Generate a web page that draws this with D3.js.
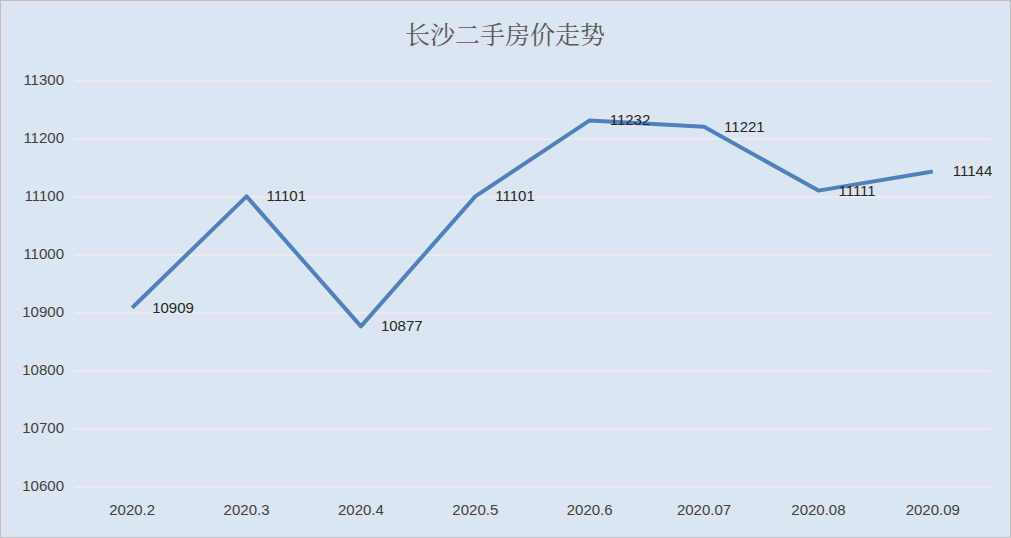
<!DOCTYPE html>
<html><head><meta charset="utf-8">
<script src="https://cdn.jsdelivr.net/npm/d3@7"></script>
<style>body{margin:0;background:#fff}</style></head>
<body><svg id="c" width="1011" height="538"></svg>
<script>
const categories=["2020.2","2020.3","2020.4","2020.5","2020.6","2020.07","2020.08","2020.09"];
const values=[10909,11101,10877,11101,11232,11221,11111,11144];
const yTicks=[10600,10700,10800,10900,11000,11100,11200,11300];
const title="长沙二手房价走势";

const svg=d3.select("#c");
svg.append("rect").attr("x",0.5).attr("y",0.5).attr("width",1010).attr("height",537)
  .attr("fill","#dce6f2").attr("stroke","#bfbfbf");
const x=d3.scaleBand().domain(categories).range([75,990]);
const y=d3.scaleLinear().domain([10600,11300]).range([487,81]);
const font="'Liberation Sans','DejaVu Sans',sans-serif";
svg.append("g").selectAll("line").data(yTicks).join("line")
  .attr("x1",75).attr("x2",990).attr("y1",d=>y(d)).attr("y2",d=>y(d))
  .attr("stroke","#f2f2f2").attr("stroke-width",1);
svg.append("g").selectAll("text").data(yTicks).join("text")
  .attr("x",64).attr("y",d=>y(d)).attr("text-anchor","end").attr("dominant-baseline","middle")
  .attr("font-family",font).attr("font-size",15).attr("fill","#404040").text(d=>d);
svg.append("g").selectAll("text").data(categories).join("text")
  .attr("x",d=>x(d)+x.bandwidth()/2).attr("y",511).attr("text-anchor","middle").attr("dominant-baseline","middle")
  .attr("font-family",font).attr("font-size",15).attr("fill","#404040").text(d=>d);
const line=d3.line().x((d,i)=>x(categories[i])+x.bandwidth()/2).y(d=>y(d));
svg.append("path").datum(values).attr("d",line).attr("fill","none")
  .attr("stroke","#4f81bd").attr("stroke-width",4).attr("stroke-linejoin","round");
svg.append("g").selectAll("text").data(values).join("text")
  .attr("x",(d,i)=>x(categories[i])+x.bandwidth()/2+20).attr("y",d=>y(d)+1)
  .attr("dominant-baseline","middle").attr("font-family",font).attr("font-size",15).attr("fill","#262626").text(d=>d);
svg.append("text").attr("x",505).attr("y",38).attr("text-anchor","middle").attr("dominant-baseline","middle")
  .attr("font-family","'Noto Serif CJK SC','Noto Sans CJK SC',serif").attr("font-size",25).attr("fill","#595959").text(title);
</script></body></html>
